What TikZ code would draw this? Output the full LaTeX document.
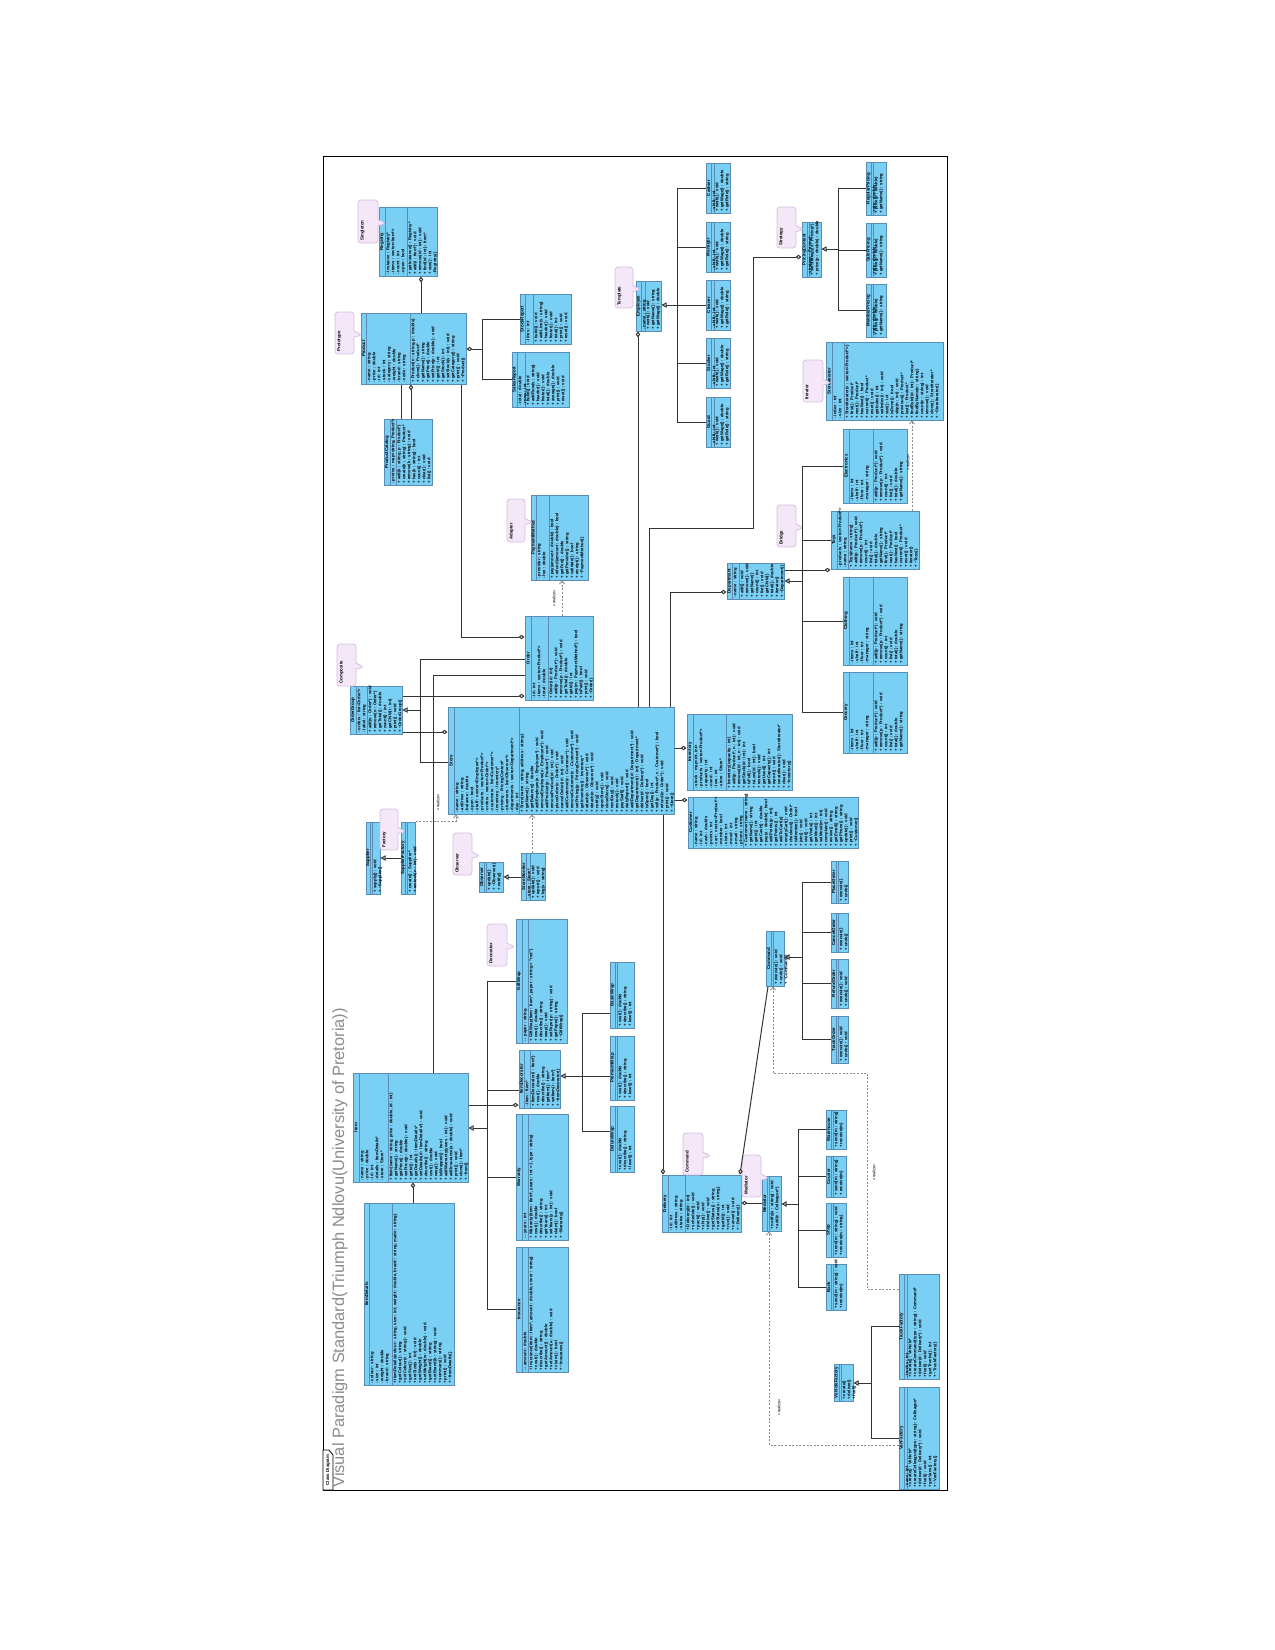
\documentclass[tikz,border=0pt]{standalone}
\usepackage{fontspec}
\setmainfont{Liberation Sans}
\usetikzlibrary{arrows.meta,fit,shapes.callouts}

\definecolor{clsfill}{HTML}{7ACFF5}
\definecolor{clsdraw}{HTML}{5A8DB3}
\definecolor{notefill}{HTML}{F3E7F8}
\definecolor{notedraw}{HTML}{D9BFE6}

% class box: name, {x1,y1,x2,y2,name column,separator}, title, attributes, operations
\newcommand{\umlclass}[5]{\def\umlattrs{#4}\def\umlops{#5}\umlclassdo{#1}{#3}#2\relax}
\def\umlclassdo#1#2#3,#4,#5,#6,#7,#8\relax{%
  \path (#3,#4) coordinate (#1-nw) (#5,#6) coordinate (#1-se);
  \node[cls, fit=(#1-nw)(#1-se)] (#1) {};
  \draw[clsline] (#7,#4) -- (#7,#6);
  \draw[clsline] (#8,#4) -- (#8,#6);
  \node[ctitle] (#1-t) at ({(#3+#7)/2},{(#4+#6)/2}) {#2};
  \node[cmem] (#1-a) at (#7,#6) {\umlattrs};
  \node[cmem] (#1-o) at (#8,#6) {\umlops};
}
% note: name, {x1,y1,x2,y2}, text
\newcommand{\umlnote}[3]{\umlnotedo{#1}{#3}#2\relax}
\def\umlnotedo#1#2#3,#4,#5,#6\relax{%
  \node[note, minimum width={(#5-#3)*0.5pt}, minimum height={(#6-#4)*0.5pt},
    callout absolute pointer={({#5+8},{(#4+#6)/2+2})}] (#1) at ({(#3+#5)/2},{(#4+#6)/2}) {};
  \node[ntext] (#1-t) at ({#3+2},{#6-2}) {#2};
}

\begin{document}
\begin{tikzpicture}[x=0.5pt, y=-0.5pt,
    cls/.style={draw=clsdraw, fill=clsfill, line width=0.5pt, inner sep=0pt},
    clsline/.style={draw=clsdraw, line width=0.4pt},
    ctitle/.style={rotate=90, inner sep=0pt, font=\bfseries\fontsize{2.2}{2.6}\selectfont},
    cmem/.style={rotate=90, anchor=north west, align=left, inner sep=0.5pt, font=\bfseries\fontsize{2.1}{2.5}\selectfont},
    note/.style={rectangle callout, draw=notedraw, fill=notefill, line width=0.4pt, rounded corners=1.5pt, inner sep=0pt, callout pointer width=3pt},
    ntext/.style={rotate=90, anchor=north west, inner sep=0pt, font=\bfseries\fontsize{2.2}{2.6}\selectfont},
    assoc/.style={draw=black!80, line width=0.5pt},
    agg/.style={assoc, -{Diamond[open, length=3pt, width=2.2pt]}},
    gen/.style={assoc, -{Triangle[open, length=2.5pt, width=2.6pt]}},
    realize/.style={draw=black!45, line width=0.4pt, dash pattern=on 1pt off 0.8pt, -{Straight Barb[length=1.5pt, width=2.6pt]}},
    rlabel/.style={rotate=90, inner sep=0pt, font=\fontsize{2}{2.5}\selectfont}]

    \fill[white] (0,0) rectangle (1275,1650);
    \useasboundingbox (0,0) rectangle (1275,1650);

    % Frame
    \draw[black, line width=0.5pt] (323,156) rectangle (947,1490);
    \draw[fill=white, line width=0.4pt] (323,1490) -- (333,1490) -- (333,1455) -- (329,1450) -- (323,1450) -- cycle;
    \node[rotate=90, inner sep=0pt, font=\bfseries\fontsize{2.2}{2.6}\selectfont] (tab) at (328,1470) {Class Diagram};
    \node[rotate=90, anchor=west, inner sep=0pt, text=black!45, font=\fontsize{8.2}{9.5}\selectfont] (title) at (340,1488)
      {Visual Paradigm Standard(Triumph Ndlovu(University of Pretoria))};

    % Singleton and prototype
    \umlclass{db}{379,207,437,276,385,407}{Registry}
      {- instance : Registry*\\- items : vector<Item*>\\- count : int\\- open : bool}
      {+ getInstance() : Registry*\\+ add(i : Item*) : void\\+ remove(id : int) : void\\+ find(id : int) : Item*\\+ size() : int\\- Registry()}
    \umlclass{subj}{361,313,466,384,366,410}{Product}
      {- name : string\\- price : double\\- id : int\\- stock : int\\- category : string\\- weight : double\\- brand : string\\- code : string}
      {+ Product(n : string, p : double)\\+ clone() : Product*\\+ getName() : string\\+ getPrice() : double\\+ setPrice(p : double) : void\\+ getId() : int\\+ getStock() : int\\+ setStock(s : int) : void\\+ getCategory() : string\\+ print() : void\\+ \textasciitilde Product()}
    \umlclass{mgr}{384,419,432,485,390,396}{ProductCatalog}
      {- protos : map<string, Product*>}
      {+ add(k : string, p : Product*)\\+ create(k : string) : Product*\\+ remove(k : string) : void\\+ has(k : string) : bool\\+ count() : int\\+ clear() : void\\+ list() : void}
    \umlclass{c1}{520,294,571,344,525,533}{StockReport}
      {- lines : int}
      {+ build() : void\\+ addLine(s : string)\\+ header() : void\\+ footer() : void\\+ total() : int\\+ print() : void\\+ reset() : void}
    \umlclass{c2}{512,352,569,407,517,525}{SalesReport}
      {- total : double\\- rows : int}
      {+ build() : void\\+ addRow(s : string)\\+ header() : void\\+ footer() : void\\+ total() : double\\+ average() : double\\+ print() : void\\+ reset() : void}

    % Adapter and composite
    \umlclass{dec}{531,495,588,580,536,549}{PaymentMethod}
      {- provider : string\\- fee : double}
      {+ pay(amount : double) : bool\\+ refund(amount : double) : bool\\+ getFee() : double\\+ getProvider() : string\\+ validate() : bool\\+ receipt() : string\\+ \textasciitilde PaymentMethod()}
    \umlclass{comp}{525,616,593,700,531,548}{Order}
      {- id : int\\- items : vector<Product*>\\- total : double}
      {+ Order(id : int)\\+ add(p : Product*) : void\\+ remove(p : Product*) : void\\+ getTotal() : double\\+ getId() : int\\+ pay(m : PaymentMethod*) : bool\\+ isPaid() : bool\\+ print() : void\\+ \textasciitilde Order()}
    \umlclass{sec}{350,686,402,734,356,367}{OrderGroup}
      {- orders : list<Order*>\\- label : string}
      {+ add(o : Order*) : void\\+ remove(o : Order*)\\+ getTotal() : double\\+ count() : int\\+ getChild(i : int)\\+ print() : void\\+ \textasciitilde OrderGroup()}
    \umlclass{main}{448,707,674,814,454,519}{Store}
      {- name : string\\- address : string\\- balance : double\\- open : bool\\- staff : vector<Employee*>\\- products : vector<Product*>\\- orders : vector<Order*>\\- customers : list<Customer*>\\- inventory : Inventory*\\- pricing : PricingContext*\\- observers : list<Observer*>\\- departments : vector<Department*>\\- day : int}
      {+ Store(name : string, address : string)\\+ getName() : string\\+ getBalance() : double\\+ addEmployee(e : Employee*) : void\\+ removeEmployee(e : Employee*) : void\\+ addProduct(p : Product*) : void\\+ removeProduct(id : int) : void\\+ placeOrder(o : Order*) : void\\+ cancelOrder(id : int) : void\\+ addCustomer(c : Customer*) : void\\+ removeCustomer(c : Customer*) : void\\+ setPricing(p : PricingContext*) : void\\+ getInventory() : Inventory*\\+ attach(o : Observer*) : void\\+ detach(o : Observer*) : void\\+ notify() : void\\+ openStore() : void\\+ closeStore() : void\\+ nextDay() : void\\+ restock() : void\\+ payStaff() : void\\+ dailyReport() : void\\+ addDepartment(d : Department*) : void\\+ getDepartment(i : int) : Department*\\+ deliver(d : Delivery*) : void\\+ isOpen() : bool\\+ getDay() : int\\+ sell(p : Product*, c : Customer*) : bool\\+ refund(o : Order*) : void\\+ print() : void\\+ \textasciitilde Store()}

    % Factory and observer
    \umlclass{fa}{366,822,380,894,370,372}{Supplier}{}{+ supply() : void\\+ \textasciitilde Supplier()}
    \umlclass{fb}{401,822,415,894,405,407}{SupplierFactory}{}{+ create() : Supplier*\\+ restock(n : int) : void}
    \umlclass{obs}{479,862,503,892,484,486}{Observer}{}{+ update()\\+ \textasciitilde Observer()\\+ notify()}
    \umlclass{csub}{521,853,545,900,526,530}{StoreMonitor}{- store : Store*}{+ update() : void\\+ report() : void\\+ log(s : string)}

    % Employees
    \umlclass{user}{636,281,661,331,641,645}{Employee}{- name : string}{+ work() : void\\+ getName() : string\\+ getWage() : double}
    \umlclass{u1}{706,163,730,213,711,714}{Cashier}{- shift : int}{+ work() : void\\+ getWage() : double\\+ getRole() : string}
    \umlclass{u2}{706,222,730,272,711,714}{Manager}{- shift : int}{+ work() : void\\+ getWage() : double\\+ getRole() : string}
    \umlclass{u3}{706,280,730,330,711,714}{Cleaner}{- shift : int}{+ work() : void\\+ getWage() : double\\+ getRole() : string}
    \umlclass{u4}{706,338,730,388,711,714}{Stocker}{- shift : int}{+ work() : void\\+ getWage() : double\\+ getRole() : string}
    \umlclass{u5}{706,397,730,447,711,714}{Guard}{- shift : int}{+ work() : void\\+ getWage() : double\\+ getRole() : string}

    % Strategy
    \umlclass{ctx}{802,222,821,277,807,809}{PricingContext}{- strategy : Pricing*}{+ setStrategy(s : Pricing*)\\+ price(p : double) : double}
    \umlclass{s1}{866,162,886,215,871,873}{RegularPricing}{- rate : double}{+ price(p : double)\\+ getName() : string}
    \umlclass{s2}{866,223,886,277,871,873}{SalePricing}{- rate : double}{+ price(p : double)\\+ getName() : string}
    \umlclass{s3}{866,284,886,337,871,873}{MemberPricing}{- rate : double}{+ price(p : double)\\+ getName() : string}

    % Iterator
    \umlclass{state}{826,342,943,420,832,844}{StoreIterator}
      {- index : int\\- size : int}
      {+ StoreIterator(v : vector<Product*>)\\+ first() : Product*\\+ next() : Product*\\+ hasNext() : bool\\+ current() : Product*\\+ reset() : void\\+ getIndex() : int\\+ setIndex(i : int) : void\\+ size() : int\\+ isDone() : bool\\+ skip(n : int) : void\\+ previous() : Product*\\+ last() : Product*\\+ findById(id : int) : Product*\\+ findByName(n : string)\\+ count(c : string) : int\\+ remove() : void\\+ clone() : StoreIterator*\\+ \textasciitilde StoreIterator()}
    \umlclass{cart}{727,563,784,599,732,739}{Department}
      {- name : string}
      {+ add() : void\\+ remove() : void\\+ getName()\\+ count() : int\\+ list() : void\\+ getChild()\\+ total() : double\\+ iterator()\\+ \textasciitilde Department()}
    \umlclass{p1}{843,429,907,503,849,873}{Electronics}
      {- items : int\\- shelf : int\\- floor : int\\- manager : string}
      {+ add(p : Product*) : void\\+ remove(p : Product*) : void\\+ count() : int\\+ list() : void\\+ total() : double\\+ getName() : string}
    \umlclass{p2}{831,511,919,569,837,848}{Toys}
      {- products : vector<Product*>\\- name : string}
      {+ Toys(name : string)\\+ add(p : Product*) : void\\+ remove(p : Product*)\\+ count() : int\\+ list() : void\\+ total() : double\\+ getName() : string\\+ first() : Product*\\+ next() : Product*\\+ hasNext() : bool\\+ current() : Product*\\+ reset() : void\\+ iterator()\\+ \textasciitilde Toys()}
    \umlclass{p3}{843,577,907,665,849,873}{Clothing}
      {- items : int\\- shelf : int\\- floor : int\\- manager : string}
      {+ add(p : Product*) : void\\+ remove(p : Product*) : void\\+ count() : int\\+ list() : void\\+ total() : double\\+ getName() : string}
    \umlclass{p4}{843,672,907,753,849,873}{Grocery}
      {- items : int\\- shelf : int\\- floor : int\\- manager : string}
      {+ add(p : Product*) : void\\+ remove(p : Product*) : void\\+ count() : int\\+ list() : void\\+ total() : double\\+ getName() : string}
    \umlclass{iter}{687,714,792,790,693,726}{Inventory}
      {- stock : map<int, int>\\- products : vector<Product*>\\- capacity : int\\- used : int\\- low : int\\- store : Store*}
      {+ Inventory(capacity : int)\\+ add(p : Product*, n : int) : void\\+ remove(id : int, n : int) : void\\+ getStock(id : int) : int\\+ isFull() : bool\\+ isLow(id : int) : bool\\+ restock() : void\\+ getUsed() : int\\+ getCapacity() : int\\+ report() : void\\+ createIterator() : StoreIterator*\\+ clear() : void\\+ \textasciitilde Inventory()}
    \umlclass{game}{688,797,858,848,693,743}{Customer}
      {- name : string\\- id : int\\- cash : double\\- points : int\\- cart : vector<Product*>\\- member : bool\\- visits : int\\- mood : int\\- email : string\\- phone : string}
      {+ Customer(name : string)\\+ getName() : string\\+ getId() : int\\+ getCash() : double\\+ pay(a : double) : bool\\+ addPoints(p : int)\\+ getPoints() : int\\+ addToCart(p)\\+ emptyCart() : void\\+ checkout() : Order*\\+ isMember() : bool\\+ join() : void\\+ visit() : void\\+ getVisits() : int\\+ getMood() : int\\+ setMood(m : int)\\+ complain() : void\\+ review() : string\\+ getEmail() : string\\+ getPhone() : string\\+ update() : void\\+ print() : void\\+ \textasciitilde Customer()}

    % Command, mediator and factory
    \umlclass{tmpl}{662,1175,741,1232,668,685}{Delivery}
      {- id : int\\- address : string\\- status : string}
      {+ Delivery(id : int)\\+ schedule() : void\\+ pack() : void\\+ ship() : void\\+ deliver() : void\\+ getStatus() : string\\+ setStatus(s : string)\\+ getId() : int\\+ run() : void\\+ cancel() : void\\+ \textasciitilde Delivery()}
    \umlclass{med}{762,1176,781,1231,767,769}{Mediator}{}{+ notify(s : string) : void\\+ add(c : Colleague*)}
    \umlclass{m1}{826,1110,846,1149,831,833}{Warehouse}{}{+ send(m : string)\\+ receive(m)}
    \umlclass{m2}{826,1156,846,1197,831,833}{Courier}{}{+ send(m : string)\\+ receive(m)}
    \umlclass{m3}{826,1203,846,1257,831,833}{Shop}{}{+ send(m : string) : void\\+ receive(m : string)}
    \umlclass{m4}{826,1264,846,1310,831,833}{Bank}{}{+ send(m : string) : void\\+ receive(m)}
    \umlclass{cmd}{766,931,784,986,771,773}{Command}{}{+ execute() : void\\+ undo() : void\\+ \textasciitilde Command()}
    \umlclass{k1}{831,861,848,903,836,838}{PlaceOrder}{}{+ execute()\\+ undo()}
    \umlclass{k2}{831,913,848,952,836,838}{CancelOrder}{}{+ execute()\\+ undo()}
    \umlclass{k3}{831,959,848,1008,836,838}{RefundOrder}{}{+ execute() : void\\+ undo() : void}
    \umlclass{k4}{831,1016,848,1063,836,838}{TrackOrder}{}{+ execute() : void\\+ undo() : void}
    \umlclass{fac2}{834,1364,853,1401,839,841}{VehicleFactory}{}{+ create()\\+ deliver()\\+ fuel()}
    \umlclass{r1}{899,1274,939,1379,904,907}{TruckFactory}
      {- trucks : int}
      {+ create() : Vehicle*\\+ createCommand(type : string) : Command*\\+ deliver(d : Delivery*) : void\\+ fuel() : void\\+ getTrucks() : int\\+ \textasciitilde TruckFactory()}
    \umlclass{r2}{899,1387,939,1489,904,907}{VanFactory}
      {- vans : int}
      {+ create() : Vehicle*\\+ createColleague(type : string) : Colleague*\\+ deliver(d : Delivery*) : void\\+ fuel() : void\\+ getVans() : int\\+ \textasciitilde VanFactory()}

    % Decorator
    \umlclass{mainL}{353,1073,468,1182,359,388}{Item}
      {- name : string\\- price : double\\- id : int\\- details : ItemDetails*\\- store : Store*}
      {+ Item(name : string, price : double, id : int)\\+ getName() : string\\+ getPrice() : double\\+ setPrice(p : double) : void\\+ getId() : int\\+ getDetails() : ItemDetails*\\+ setDetails(d : ItemDetails*) : void\\+ describe() : string\\+ cost() : double\\+ wrap() : void\\+ isWrapped() : bool\\+ addWarranty(years : int) : void\\+ addInsurance(a : double) : void\\+ print() : void\\+ clone() : Item*\\+ \textasciitilde Item()}
    \umlclass{pet}{364,1203,454,1385,369,392}{ItemDetails}
      {- colour : string\\- size : int\\- weight : double\\- brand : string}
      {+ ItemDetails(colour : string, size : int, weight : double, brand : string, made : string)\\+ getColour() : string\\+ setColour(c : string) : void\\+ getSize() : int\\+ setSize(s : int) : void\\+ getWeight() : double\\+ setWeight(w : double) : void\\+ getBrand() : string\\+ setBrand(b : string) : void\\+ summary() : string\\+ print() : void\\+ \textasciitilde ItemDetails()}
    \umlclass{d1}{516,919,567,1043,522,528}{GiftWrap}
      {- - paper : string}
      {+ GiftWrap(item : Item*, paper : string = "red")\\+ cost() : double\\+ describe() : string\\+ wrap() : void\\+ setPaper(p : string) : void\\+ getPaper() : string\\+ \textasciitilde GiftWrap()}
    \umlclass{d2}{519,1050,560,1108,524,530}{ItemDecorator}
      {- item : Item*}
      {+ ItemDecorator(i : Item*)\\+ cost() : double\\+ describe() : string\\+ getItem() : Item*\\+ setItem(i : Item*)\\+ \textasciitilde ItemDecorator()}
    \umlclass{d3}{516,1114,568,1240,522,528}{Warranty}
      {- - years : int}
      {+ Warranty(item : Item*, years : int = 1, type : string)\\+ cost() : double\\+ describe() : string\\+ getYears() : int\\+ setYears(y : int) : void\\+ claim() : bool\\+ \textasciitilde Warranty()}
    \umlclass{d4}{516,1247,568,1372,522,528}{Insurance}
      {- - amount : double}
      {+ Insurance(item : Item*, amount : double, cover : string)\\+ cost() : double\\+ describe() : string\\+ getAmount() : double\\+ setAmount(a : double) : void\\+ claim() : bool\\+ \textasciitilde Insurance()}
    \umlclass{e1}{610,962,634,1028,615,617}{BasicWrap}{}{+ cost() : double\\+ describe() : string\\+ level() : int}
    \umlclass{e2}{610,1036,634,1100,615,617}{PremiumWrap}{}{+ cost() : double\\+ describe() : string\\+ level() : int}
    \umlclass{e3}{610,1106,634,1172,615,617}{DeluxeWrap}{}{+ cost() : double\\+ describe() : string\\+ level() : int}

    % Notes
    \umlnote{n1}{358,200,378,243}{Singleton}
    \umlnote{n2}{335,312,354,354}{Prototype}
    \umlnote{n3}{507,499,525,542}{Adapter}
    \umlnote{n4}{337,644,356,686}{Composite}
    \umlnote{n5}{380,809,398,850}{Factory}
    \umlnote{n6}{453,833,472,875}{Observer}
    \umlnote{n7}{615,267,633,308}{Template}
    \umlnote{n8}{777,207,796,248}{Strategy}
    \umlnote{n9}{803,360,823,402}{Iterator}
    \umlnote{n10}{777,505,796,547}{Bridge}
    \umlnote{n11}{683,1133,703,1175}{Command}
    \umlnote{n12}{742,1155,761,1197}{Mediator}
    \umlnote{n13}{487,924,507,966}{Decorator}

    % Connectors
    \draw[agg] (subj.north -| 421,0) -- (db.south -| 421,0);
    \draw[assoc] (mgr.north -| 401,0) -- (subj.south -| 401,0);
    \draw[agg] (mgr.north -| 411,0) -- (subj.south -| 411,0);
    \draw[agg] (482,349) -- (subj.east |- 0,349);
    \draw[assoc] (c1.west) -| (482,349);
    \draw[assoc] (c2.west) -| (482,349);
    \draw[agg] (subj.south -| 461,0) |- (comp.west |- 0,637);
    \draw[realize] (comp.north -| 562,0) -- (dec.south -| 562,0);
    \draw[assoc] (mainL.north -| 433,0) |- (comp.west |- 0,675);
    \draw[agg] (sec.east |- 0,696) -- (comp.west |- 0,696);
    \draw[agg] (sec.east |- 0,732) -- (main.west |- 0,732);
    \draw[gen] (420,710) -- (sec.east |- 0,710);
    \draw[assoc] (comp.west |- 0,659) -| (420,710);
    \draw[assoc] (main.west |- 0,762) -| (420,710);
    \draw[gen] (fb.west |- 0,858) -- (fa.east |- 0,858);
    \draw[realize] (fb.north east) -| (main.south -| 456,0);
    \draw[gen] (csub.west |- 0,877) -- (obs.east |- 0,877);
    \draw[realize] (csub.north -| 532,0) -- (main.south -| 532,0);
    \draw[agg] (main.north -| 638,0) -- (user.south -| 638,0);
    \draw[gen] (677,305) -- (user.east |- 0,305);
    \foreach \c in {u1,u2,u3,u4,u5} \draw[assoc] (\c.west) -| (677,305);
    \draw[agg] (main.north -| 649,0) |- (753,528) |- (ctx.west |- 0,257);
    \draw[gen] (838,249) -- (ctx.east |- 0,249);
    \foreach \c in {s1,s2,s3} \draw[assoc] (\c.west) -| (838,249);
    \draw[agg] (main.north -| 670,0) |- (cart.west |- 0,592);
    \draw[agg] (cart.east |- 0,570) -- (p2.west |- 0,570);
    \draw[gen] (802,581) -- (cart.east |- 0,581);
    \foreach \c in {p1,p2,p3,p4} \draw[assoc] (\c.west) -| (802,581);
    \draw[realize] (p2.north -| 912,0) -- (state.south -| 912,0);
    \draw[agg] (main.east |- 0,748) -- (iter.west |- 0,748);
    \draw[agg] (main.east |- 0,800) -- (game.west |- 0,800);
    \draw[agg] (main.south -| 663,0) -- (tmpl.north -| 663,0);
    \draw[agg] (cmd.south -| 768,0) -- (tmpl.north -| 740,0);
    \draw[agg] (med.west |- 0,1203) -- (tmpl.east |- 0,1203);
    \draw[gen] (798,1204) -- (med.east |- 0,1204);
    \foreach \c in {m1,m2,m3,m4} \draw[assoc] (\c.west) -| (798,1204);
    \draw[gen] (802,957) -- (cmd.east |- 0,957);
    \foreach \c in {k1,k2,k3,k4} \draw[assoc] (\c.west) -| (802,957);
    \draw[realize] (r1.west |- 0,1289) -| (867,1073) -| (cmd.south -| 773,0);
    \draw[realize] (r2.west |- 0,1445) -| (med.south -| 769,0);
    \draw[gen] (871,1383) -- (fac2.east |- 0,1383);
    \foreach \c in {r1,r2} \draw[assoc] (\c.west) -| (871,1383);
    \draw[agg] (pet.north -| 413,0) -- (mainL.south -| 413,0);
    \draw[agg] (mainL.east |- 0,1105) -- (d2.west |- 0,1105);
    \draw[gen] (487,1128) -- (mainL.east |- 0,1128);
    \foreach \c in {d1,d3,d4} \draw[assoc] (\c.west) -| (487,1128);
    \draw[assoc] (d2.west |- 0,1090) -| (487,1128);
    \draw[gen] (582,1076) -- (d2.east |- 0,1076);
    \draw[assoc] (e1.west |- 0,1013) -| (582,1076);
    \draw[assoc] (e2.west |- 0,1076) -- (582,1076);
    \draw[assoc] (e3.west |- 0,1131) -| (582,1076);

    % Labels
    \node[rlabel] (lab1) at (554,598) {«realize»};
    \node[rlabel] (lab2) at (438,802) {«realize»};
    \node[rlabel] (lab3) at (908,462) {«realize»};
    \node[rlabel] (lab4) at (779,1407) {«realize»};
    \node[rlabel] (lab5) at (874,1172) {«realize»};
\end{tikzpicture}
\end{document}
